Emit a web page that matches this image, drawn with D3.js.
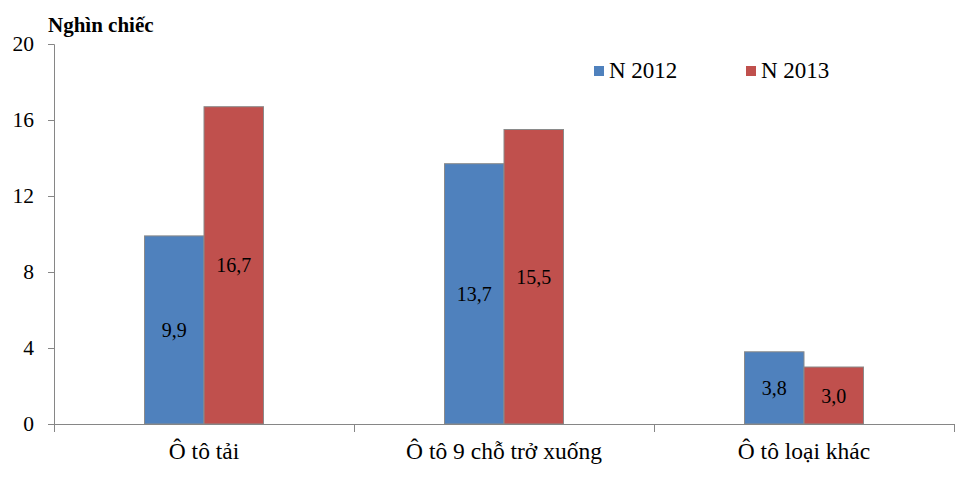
<!DOCTYPE html>
<html><head><meta charset="utf-8">
<script src="https://cdn.jsdelivr.net/npm/d3@7"></script>
<style>body{margin:0;background:#fff}</style>
</head><body>
<svg id="c" width="975" height="503"></svg>
<script>
const categories = ["Ô tô tải", "Ô tô 9 chỗ trở xuống", "Ô tô loại khác"];
const seriesNames = ["N 2012", "N 2013"];
const values2012 = [9.9, 13.7, 3.8];
const values2013 = [16.7, 15.5, 3.0];
const yTicks = [0, 4, 8, 12, 16, 20];
const colors = ["#4F81BD", "#C0504D"];
const unitLabel = "Nghìn chiếc";

const series = [values2012, values2013];
const svg = d3.select("#c");
const x0 = d3.scaleBand().domain(categories).range([54, 954]).padding(0);
const x1 = d3.scaleBand().domain(seriesNames).range([0, 119]).padding(0);
const y = d3.scaleLinear().domain([0, 20]).range([424, 44]);
const axisColor = "#868686";

function txt(sel, size, bold) {
  return sel.attr("font-family", "Liberation Serif").attr("font-size", size)
    .attr("font-weight", bold ? "bold" : "normal").attr("fill", "#000");
}

// unit label
txt(svg.append("text").attr("x", 48).attr("y", 32), 21, true).text(unitLabel);

// legend
const legX = [594, 746];
seriesNames.forEach((s, j) => {
  svg.append("rect").attr("x", legX[j]).attr("y", 66).attr("width", 10).attr("height", 10).attr("fill", colors[j]);
  txt(svg.append("text").attr("x", legX[j] + 15).attr("y", 77.5), 23).text(s);
});

// y axis
const ya = svg.append("g").attr("transform","translate(54,0)")
  .call(d3.axisLeft(y).tickValues(yTicks).tickSize(6).tickFormat(""));
ya.select(".domain").attr("stroke", axisColor).attr("d","M-6,44.5H0.5V424.5");
ya.selectAll(".tick line").attr("stroke", axisColor);
yTicks.forEach(t => {
  txt(svg.append("text").attr("x", 34).attr("y", y(t)).attr("dy", "0.34em").attr("text-anchor", "end"), 21.5)
    .text(d3.format("d")(t));
});

// bars
categories.forEach((c, i) => {
  const cx = x0(c) + x0.bandwidth()/2 - 59.5;
  seriesNames.forEach((s, j) => {
    const v = series[j][i];
    svg.append("rect").attr("x", cx + x1(s)).attr("y", y(v)).attr("width", x1.bandwidth())
      .attr("height", y(0) - y(v)).attr("fill", colors[j]).attr("stroke", "#8a8a8a").attr("stroke-width", 1);
    txt(svg.append("text").attr("x", cx + x1(s) + x1.bandwidth()/2).attr("y", (y(v) + y(0))/2)
      .attr("dy","0.35em").attr("text-anchor","middle"), 20)
      .text(d3.format(".1f")(v).replace(".", ","));
  });
});

// x axis
const xa = svg.append("g").attr("transform","translate(0,424)")
  .call(d3.axisBottom(x0).tickSize(0).tickFormat(""));
xa.select(".domain").attr("stroke", axisColor).attr("d","M54,0.5H954");
const bounds = [0,1,2].map(i => x0(categories[i])).concat([x0(categories[2]) + x0.bandwidth()]);
bounds.forEach(d => {
  svg.append("line").attr("x1", Math.round(d)+0.5).attr("x2", Math.round(d)+0.5)
    .attr("y1", 424).attr("y2", 432).attr("stroke", axisColor);
});
categories.forEach(c => {
  txt(svg.append("text").attr("x", x0(c) + x0.bandwidth()/2).attr("y", 459).attr("text-anchor","middle"), 23.5).text(c);
});
</script>
</body></html>
